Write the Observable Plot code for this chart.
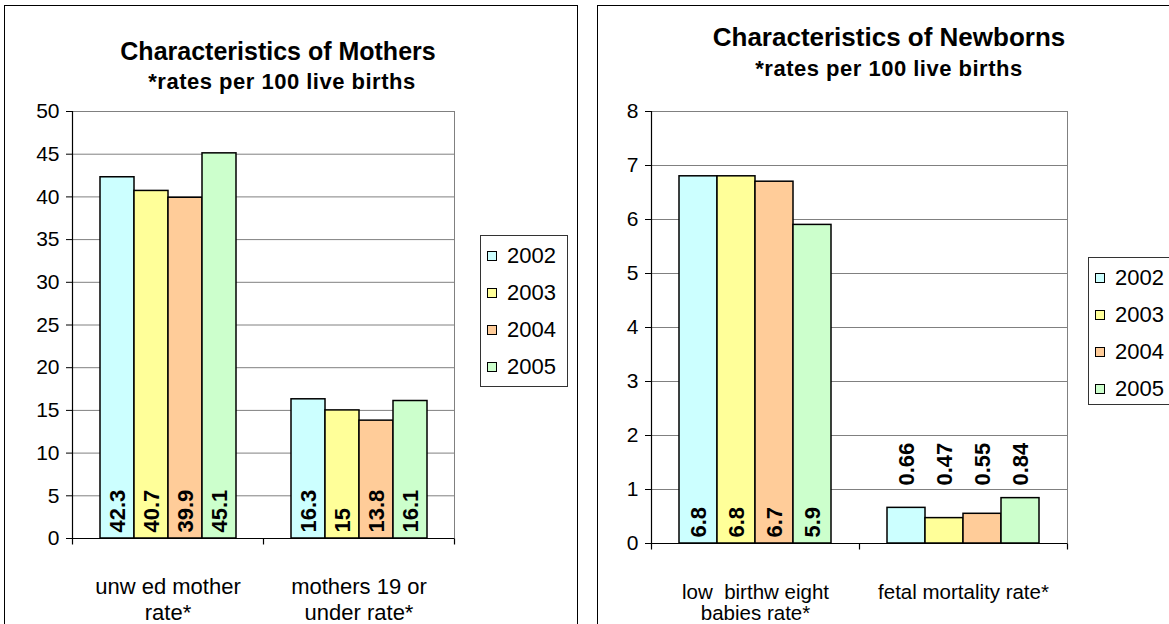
<!DOCTYPE html>
<html>
<head>
<meta charset="utf-8">
<script src="https://cdn.jsdelivr.net/npm/d3@7"></script>
<script src="https://cdn.jsdelivr.net/npm/@observablehq/plot@0.6"></script>
<style>
  html, body { margin: 0; padding: 0; background: #fff; width: 1169px; height: 624px; overflow: hidden; }
  body { font-family: "Liberation Sans", Arial, sans-serif; position: relative; }
  .panel { position: absolute; border: 1px solid #000; box-sizing: border-box; background: #fff; }
  .title { position: absolute; text-align: center; font-weight: bold; color: #000; white-space: nowrap; }
  .chart { position: absolute; }
  .legend { position: absolute; border: 1px solid #333; background: #fff; box-sizing: border-box; padding: 1px 6px 0 6px; }
  .legend .item { display: flex; align-items: center; height: 37px; font-size: 22px; }
  .legend .sw { width: 10px; height: 10px; border: 1px solid #000; margin-right: 10px; box-sizing: border-box; flex: none; }
</style>
</head>
<body>
<div class="panel" style="left:4px; top:5px; width:574px; height:700px;"></div>
<div class="panel" style="left:597px; top:5px; width:600px; height:700px;"></div>

<div class="title" style="left:0px; top:37px; width:556px; font-size:25px; line-height:29px;">Characteristics of Mothers</div>
<div class="title" style="left:0px; top:69px; width:564px; font-size:22px; line-height:26px; letter-spacing:0.5px;">*rates per 100 live births</div>
<div class="title" style="left:689px; top:22px; width:400px; font-size:26px; line-height:30px;">Characteristics of Newborns</div>
<div class="title" style="left:689px; top:56px; width:400px; font-size:22px; line-height:26px; letter-spacing:0.5px;">*rates per 100 live births</div>

<div id="left" class="chart" style="left:5px; top:100px;"></div>
<div id="right" class="chart" style="left:597px; top:100px;"></div>
<div id="legL" class="legend" style="left:480px; top:235px; width:88px; height:152px;"></div>
<div id="legR" class="legend" style="left:1088px; top:257px; width:100px; height:148px;"></div>

<script>
// ---- data ----
const years = ["2002", "2003", "2004", "2005"];
const yearColors = ["#CCFFFF", "#FFFF99", "#FFCC99", "#CCFFCC"];

const motherCategories = ["unw ed mother\nrate*", "mothers 19 or\nunder rate*"];
const unwedMotherRate = [42.3, 40.7, 39.9, 45.1];
const mothers19OrUnderRate = [16.3, 15, 13.8, 16.1];
const motherTicks = [0, 5, 10, 15, 20, 25, 30, 35, 40, 45, 50];

const newbornCategories = ["low  birthw eight\nbabies rate*", "fetal mortality rate*"];
const lowBirthweightRate = [6.8, 6.8, 6.7, 5.9];
const fetalMortalityRate = [0.66, 0.47, 0.55, 0.84];
const newbornTicks = [0, 1, 2, 3, 4, 5, 6, 7, 8];

// ---- helpers ----
function rows(categories, seriesList) {
  const out = [];
  categories.forEach((cat, i) => {
    seriesList[i].forEach((v, j) => out.push({cat, year: years[j], value: v}));
  });
  return out;
}

const tickSymbol = { draw(ctx) { ctx.moveTo(0, 0); ctx.lineTo(0, 6); } };

function makeChart({categories, data, ticks, width, height, ml, mr, mt, mb, pad, aboveCat, aboveDy, catDy, catLineHeight, catSize}) {
  const last = categories[categories.length - 1];
  const inside = data.filter(d => d.cat !== aboveCat);
  const above = data.filter(d => d.cat === aboveCat);
  return Plot.plot({
    width, height,
    marginLeft: ml, marginRight: mr, marginTop: mt, marginBottom: mb,
    style: { fontFamily: "'Liberation Sans', Arial, sans-serif", fontSize: "21px", color: "#000", background: "transparent", overflow: "visible" },
    fx: { domain: categories, padding: 0, axis: null, label: null },
    x: { domain: years, paddingInner: 0, paddingOuter: pad, axis: null },
    y: { domain: [ticks[0], ticks[ticks.length - 1]], axis: null },
    color: { domain: years, range: yearColors },
    marks: [
      Plot.gridY(ticks, { stroke: "#808080", strokeOpacity: 1, strokeWidth: 1 }),
      Plot.frame({ anchor: "right", fx: [last], stroke: "#808080", strokeWidth: 1 }),
      Plot.barY(data, { fx: "cat", x: "year", y: "value", fill: "year", stroke: "#000", strokeWidth: 1.5 }),
      Plot.text(inside, { fx: "cat", x: "year", y: 0, text: d => String(d.value), rotate: -90, textAnchor: "start", lineAnchor: "middle", dy: -6, fontWeight: "bold", fontSize: 22, fill: "#000" }),
      Plot.text(above, { fx: "cat", x: "year", y: 0, text: d => String(d.value), rotate: -90, textAnchor: "start", lineAnchor: "middle", dy: aboveDy, fontWeight: "bold", fontSize: 22, fill: "#000" }),
      Plot.ruleY([0], { stroke: "#000", strokeWidth: 1.2 }),
      Plot.frame({ anchor: "left", fx: [categories[0]], stroke: "#000", strokeWidth: 1.2 }),
      Plot.axisY({ ticks, label: null, tickSize: 6, tickPadding: 7, fontSize: 21, stroke: "#000" }),
      Plot.dot(categories, { fx: d => d, frameAnchor: "bottom-left", symbol: tickSymbol, stroke: "#000", fill: "none", strokeWidth: 1.2 }),
      Plot.dot([last], { fx: d => d, frameAnchor: "bottom-right", symbol: tickSymbol, stroke: "#000", fill: "none", strokeWidth: 1.2 }),
      Plot.text(categories, { fx: d => d, frameAnchor: "bottom", text: d => d, lineAnchor: "top", lineHeight: catLineHeight, dy: catDy, fontSize: catSize, fill: "#000" })
    ]
  });
}

document.getElementById("left").append(makeChart({
  categories: motherCategories,
  data: rows(motherCategories, [unwedMotherRate, mothers19OrUnderRate]),
  ticks: motherTicks,
  width: 472, height: 524, ml: 67, mr: 23, mt: 11, mb: 86, pad: 0.74,
  aboveCat: null, aboveDy: 0, catDy: 37, catLineHeight: 1.18, catSize: 22
}));

document.getElementById("right").append(makeChart({
  categories: newbornCategories,
  data: rows(newbornCategories, [lowBirthweightRate, fetalMortalityRate]),
  ticks: newbornTicks,
  width: 490, height: 524, ml: 53, mr: 20, mt: 11, mb: 81, pad: 0.73,
  aboveCat: newbornCategories[1], aboveDy: -58, catDy: 40, catLineHeight: 1.05, catSize: 20.5
}));

function legend(id) {
  const el = document.getElementById(id);
  years.forEach((y, i) => {
    const item = document.createElement("div");
    item.className = "item";
    const sw = document.createElement("span");
    sw.className = "sw";
    sw.style.background = yearColors[i];
    item.append(sw, document.createTextNode(y));
    el.append(item);
  });
}
legend("legL");
legend("legR");
</script>
</body>
</html>
